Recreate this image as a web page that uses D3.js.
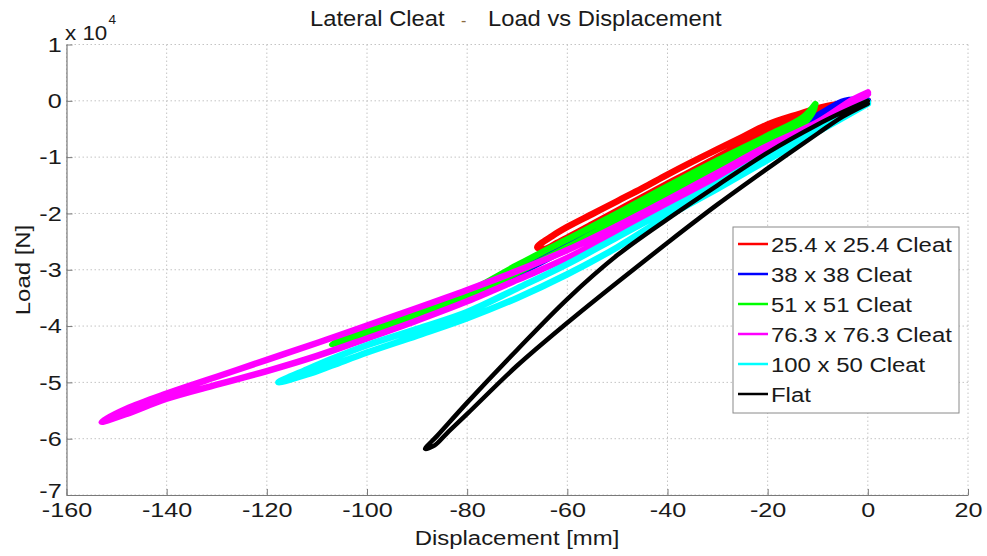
<!DOCTYPE html>
<html>
<head>
<meta charset="utf-8">
<script src="https://cdn.jsdelivr.net/npm/d3@7"></script>
<style>
  body { margin: 0; background: #fff; }
  svg { display: block; }
  text { font-family: "Liberation Sans", Arial, sans-serif; fill: #1a1a1a; }
</style>
</head>
<body>
<svg id="chart" width="987" height="556"></svg>
<script>
// ---- tick values (load in units of 10^4 N) ----
const xTicks = [-160, -140, -120, -100, -80, -60, -40, -20, 0, 20];
const yTicks = [-7, -6, -5, -4, -3, -2, -1, 0, 1];

// ---- legend ----
const seriesNames = ["25.4 x 25.4 Cleat", "38 x 38 Cleat", "51 x 51 Cleat", "76.3 x 76.3 Cleat", "100 x 50 Cleat", "Flat"];
const seriesColors = ["#ff0000", "#0000ff", "#00ff00", "#ff00ff", "#00ffff", "#000000"];

// ---- hysteresis loops: displacement [mm], load [x10^4 N] ----
const redDisp = [0, -5.6, -10, -13.6, -20, -25, -30, -35, -40, -45, -50, -55, -60, -63, -66,
                 -64.5, -62, -60, -55, -50, -45, -40, -35, -30, -25, -20, -15, -10, -5, 0];
const redLoad = [0.0, -0.05, -0.13, -0.23, -0.42, -0.64, -0.86, -1.08, -1.31, -1.55, -1.78, -2.01, -2.24, -2.4, -2.6,
                 -2.63, -2.52, -2.43, -2.19, -1.95, -1.71, -1.47, -1.24, -1.0, -0.76, -0.53, -0.35, -0.2, -0.08, 0.0];

const blueDisp = [0, -4.6, -10, -20, -30, -40, -50, -60, -70, -80, -88,
                  -80, -70, -60, -50, -40, -30, -20, -10, -5, 0];
const blueLoad = [0.0, 0.0, -0.26, -0.68, -1.11, -1.56, -2.04, -2.5, -2.96, -3.42, -3.7,
                  -3.5, -3.08, -2.62, -2.14, -1.67, -1.2, -0.77, -0.36, -0.15, -0.02];

const greenDisp = [-10.5, -13, -20, -30, -40, -50, -60, -70, -80, -90, -100, -107,
                   -100, -90, -80, -70, -60, -50, -40, -30, -20, -13, -11, -10.5];
const greenLoad = [-0.06, -0.3, -0.62, -1.06, -1.52, -2.0, -2.46, -2.92, -3.4, -3.74, -4.04, -4.32,
                   -4.12, -3.82, -3.47, -3.05, -2.6, -2.12, -1.64, -1.18, -0.74, -0.42, -0.2, -0.06];

const magentaDisp = [0, -3, -10, -20, -30, -40, -50, -60, -70, -80, -90, -100, -110, -120, -130, -140, -148, -153,
                     -148, -140, -130, -120, -110, -100, -90, -80, -70, -60, -50, -40, -30, -20, -10, -3, 0];
const magentaLoad = [0.15, 0.02, -0.38, -0.8, -1.28, -1.76, -2.22, -2.65, -3.02, -3.36, -3.68, -3.99, -4.3, -4.6, -4.9, -5.2, -5.47, -5.7,
                     -5.56, -5.29, -5.04, -4.8, -4.53, -4.22, -3.9, -3.56, -3.18, -2.79, -2.33, -1.88, -1.4, -0.9, -0.45, -0.08, 0.12];

const cyanDisp = [0, -10, -20, -30, -40, -50, -60, -70, -80, -90, -100, -107, -112, -117.7,
                  -112, -107, -100, -90, -80, -70, -60, -50, -40, -30, -20, -10, 0];
const cyanLoad = [-0.02, -0.45, -0.95, -1.47, -1.94, -2.42, -2.9, -3.33, -3.75, -4.05, -4.34, -4.58, -4.77, -5.0,
                  -4.86, -4.7, -4.47, -4.17, -3.86, -3.5, -3.08, -2.6, -2.05, -1.56, -1.05, -0.55, -0.05];

const flatDisp = [0, -5, -10, -20, -30, -40, -50, -60, -70, -80, -86, -88.4,
                  -86.5, -84, -80, -70, -60, -50, -40, -30, -20, -10, -5, 0];
const flatLoad = [0.0, -0.2, -0.42, -0.92, -1.5, -2.1, -2.74, -3.52, -4.42, -5.36, -5.95, -6.18,
                  -6.12, -5.9, -5.56, -4.7, -3.94, -3.22, -2.52, -1.84, -1.2, -0.58, -0.28, -0.05];

const seriesDisp = [redDisp, blueDisp, greenDisp, magentaDisp, cyanDisp, flatDisp];
const seriesLoad = [redLoad, blueLoad, greenLoad, magentaLoad, cyanLoad, flatLoad];
const seriesWidth = [6.5, 6.5, 6.5, 6.5, 6.5, 4.5];

// ---- drawing ----
const svg = d3.select("#chart");
const FONT = '"Liberation Sans", Arial, sans-serif';
const x = d3.scaleLinear().domain([-160, 20]).range([66.5, 968]);
const y = d3.scaleLinear().domain([-7, 1]).range([495, 44.5]);

function label(parent, px, py, str, size, sx, anchor, rot) {
  return parent.append("text")
    .attr("transform", `translate(${px},${py})` + (rot ? ` rotate(${rot})` : "") + ` scale(${sx},1)`)
    .attr("text-anchor", anchor || "start")
    .attr("font-size", size)
    .text(str);
}

// grid
const grid = svg.append("g").attr("stroke", "#c4c4c4").attr("stroke-width", 1).attr("stroke-dasharray", "1.5,2.5");
grid.selectAll("line.v").data(xTicks).join("line")
  .attr("x1", d => x(d)).attr("x2", d => x(d)).attr("y1", y(1)).attr("y2", y(-7));
grid.selectAll("line.h").data(yTicks).join("line")
  .attr("y1", d => y(d)).attr("y2", d => y(d)).attr("x1", x(-160)).attr("x2", x(20));

// curves
const line = d3.line().x(d => x(d[0])).y(d => y(d[1])).curve(d3.curveCatmullRom.alpha(0.5));
seriesDisp.forEach((disp, i) => {
  const pts = disp.map((v, k) => [v, seriesLoad[i][k]]);
  svg.append("path").attr("d", line(pts))
    .attr("fill", "none").attr("stroke", seriesColors[i])
    .attr("stroke-width", seriesWidth[i])
    .attr("stroke-linejoin", "round").attr("stroke-linecap", "round");
});

// axes (plain hyphen minus as in the reference)
const fmt = d => String(d);
const axL = svg.append("g").attr("transform", `translate(${x(-160)},0)`)
  .call(d3.axisLeft(y).tickValues(yTicks).tickFormat(fmt).tickSizeInner(-6).tickSizeOuter(0).tickPadding(4));
const axB = svg.append("g").attr("transform", `translate(0,${y(-7)})`)
  .call(d3.axisBottom(x).tickValues(xTicks).tickFormat(fmt).tickSizeInner(-6).tickSizeOuter(0).tickPadding(7));
[axL, axB].forEach(a => {
  a.attr("font-family", FONT).attr("font-size", 21);
  a.select(".domain").attr("stroke", "#7a7a7a").attr("stroke-width", 1.2);
  a.selectAll(".tick line").attr("stroke", "#7a7a7a");
  a.selectAll(".tick text").attr("fill", "#1a1a1a").attr("transform", "scale(1.2,1)");
});
// lift the lowest y label slightly, as in the reference corner
axL.selectAll(".tick text").filter(d => d === -7).attr("dy", "0.1em");

// multiplier
label(svg, 65, 40, "x 10", 20, 1.12, "start");
label(svg, 108.5, 24, "4", 13, 1.05, "start");

// title
label(svg, 310, 26, "Lateral Cleat", 22, 1.08, "start");
label(svg, 461, 26, "-", 16, 1.0, "start").style("fill", "#8a6a40");
label(svg, 488, 26, "Load vs Displacement", 22, 1.08, "start");

// axis titles
label(svg, 517, 545, "Displacement [mm]", 21, 1.14, "middle");
label(svg, 30, 270, "Load [N]", 21, 1.14, "middle", -90);

// legend
const lg = svg.append("g");
lg.append("rect").attr("x", 733).attr("y", 227).attr("width", 226).attr("height", 186)
  .attr("fill", "#fff").attr("stroke", "#8a8a8a").attr("stroke-width", 1);
seriesNames.forEach((n, i) => {
  const ry = 244 + i * 30;
  lg.append("line").attr("x1", 738).attr("x2", 768).attr("y1", ry).attr("y2", ry)
    .attr("stroke", seriesColors[i]).attr("stroke-width", 2.5);
  label(lg, 771, ry + 8, n, 21, 1.14, "start");
});
</script>
</body>
</html>
